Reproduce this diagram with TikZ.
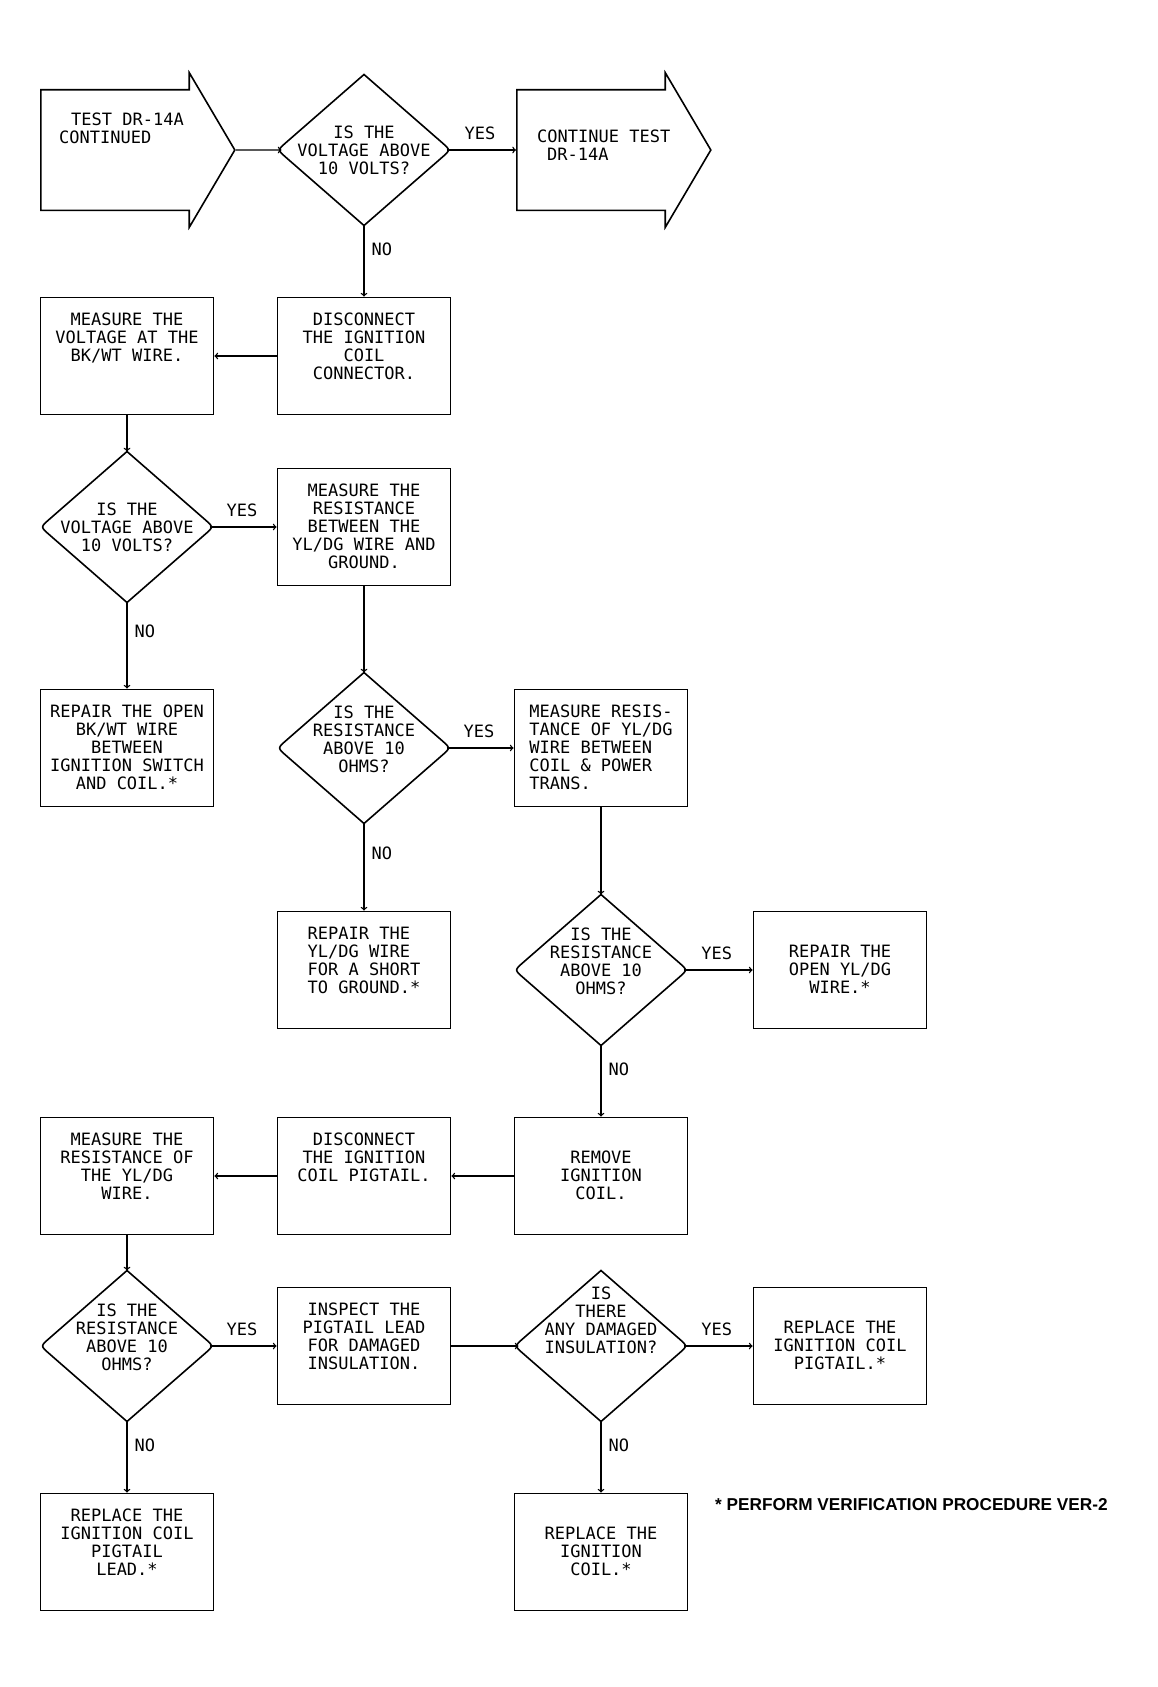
\documentclass[tikz,border=0pt]{standalone}
\usepackage{fontspec}
\usepackage{tikz}
\usetikzlibrary{shapes.geometric}
\usetikzlibrary{shapes.arrows}
\usetikzlibrary{calc}
\newfontfamily\plotterfont{DejaVu Sans Mono}
\newfontfamily\notefont{Liberation Sans}
\newcommand{\plotter}{\plotterfont\fontsize{17}{18}\selectfont}

\begin{document}
\begin{tikzpicture}[x=1pt, y=-1pt,
        stepbox/.style={draw, line width=1.8pt, minimum width=173pt, minimum height=117pt, inner sep=0pt},
        ask/.style={diamond, minimum width=173pt, minimum height=151pt, inner sep=0pt, outer sep=0pt},
        block/.style={single arrow, draw, line width=1.6pt, minimum height=194pt, text height=60pt, text depth=59pt,
            single arrow head extend=17pt, single arrow tip angle=119, inner sep=0pt, anchor=west},
        inside/.style={anchor=north, align=center, font=\plotter, inner sep=0pt},
        answer/.style={font=\plotter, inner sep=0pt},
        flow/.style={->, line width=1.4pt}]
            \useasboundingbox (0,0) rectangle (1157,1687);

            \node[block] (0) at (40,150) {};
            \node[ask, label={[inside, yshift=-51pt]north:IS THE\\VOLTAGE ABOVE\\10 VOLTS?}] (1) at (364,150) {};
            \node[block] (2) at (516,150) {};
            \node[inside, anchor=north west, align=left] (23) at (59,113) {\hspace*{12pt}TEST DR-14A\\CONTINUED};
            \node[inside, anchor=north west, align=left] (24) at (537,130) {CONTINUE TEST\\\hspace*{10pt}DR-14A};

            \node[stepbox, label={[inside, yshift=-16pt]north:DISCONNECT\\THE IGNITION\\COIL\\CONNECTOR.}] (3) at (364,356) {};
            \node[stepbox, label={[inside, yshift=-16pt]north:MEASURE THE\\VOLTAGE AT THE\\BK/WT WIRE.}] (4) at (127,356) {};

            \node[ask, label={[inside, yshift=-51pt]north:IS THE\\VOLTAGE ABOVE\\10 VOLTS?}] (5) at (127,527) {};
            \node[stepbox, label={[inside, yshift=-16pt]north:MEASURE THE\\RESISTANCE\\BETWEEN THE\\YL/DG WIRE AND\\GROUND.}] (6) at (364,527) {};

            \node[stepbox, label={[inside, yshift=-16pt]north:REPAIR THE OPEN\\BK/WT WIRE\\BETWEEN\\IGNITION SWITCH\\AND COIL.*}] (7) at (127,748) {};
            \node[ask, label={[inside, yshift=-33pt]north:IS THE\\RESISTANCE\\ABOVE 10\\OHMS?}] (8) at (364,748) {};
            \node[stepbox, label={[inside, align=left, yshift=-16pt]north:MEASURE RESIS-\\TANCE OF YL/DG\\WIRE BETWEEN\\COIL \& POWER\\TRANS.}] (9) at (601,748) {};

            \node[stepbox, label={[inside, align=left, yshift=-16pt]north:REPAIR THE\\YL/DG WIRE\\FOR A SHORT\\TO GROUND.*}] (10) at (364,970) {};
            \node[ask, label={[inside, yshift=-33pt]north:IS THE\\RESISTANCE\\ABOVE 10\\OHMS?}] (11) at (601,970) {};
            \node[stepbox, label={[inside, yshift=-34pt]north:REPAIR THE\\OPEN YL/DG\\WIRE.*}] (12) at (840,970) {};

            \node[stepbox, label={[inside, yshift=-34pt]north:REMOVE\\IGNITION\\COIL.}] (13) at (601,1176) {};
            \node[stepbox, label={[inside, yshift=-16pt]north:DISCONNECT\\THE IGNITION\\COIL PIGTAIL.}] (14) at (364,1176) {};
            \node[stepbox, label={[inside, yshift=-16pt]north:MEASURE THE\\RESISTANCE OF\\THE YL/DG\\WIRE.}] (15) at (127,1176) {};

            \node[ask, label={[inside, yshift=-33pt]north:IS THE\\RESISTANCE\\ABOVE 10\\OHMS?}] (16) at (127,1346) {};
            \node[stepbox, label={[inside, yshift=-16pt]north:INSPECT THE\\PIGTAIL LEAD\\FOR DAMAGED\\INSULATION.}] (17) at (364,1346) {};
            \node[ask, label={[inside, yshift=-16pt]north:IS\\THERE\\ANY DAMAGED\\INSULATION?}] (18) at (601,1346) {};
            \node[stepbox, label={[inside, yshift=-34pt]north:REPLACE THE\\IGNITION COIL\\PIGTAIL.*}] (19) at (840,1346) {};

            \node[stepbox, label={[inside, yshift=-16pt]north:REPLACE THE\\IGNITION COIL\\PIGTAIL\\LEAD.*}] (20) at (127,1552) {};
            \node[stepbox, label={[inside, yshift=-34pt]north:REPLACE THE\\IGNITION\\COIL.*}] (21) at (601,1552) {};

            \node[anchor=west, inner sep=0pt, font=\notefont\bfseries\fontsize{17.2}{20}\selectfont] (22) at (715,1505)
                {* PERFORM VERIFICATION PROCEDURE VER-2};

            % diamonds with rounded side corners
            \foreach \d in {1,5,8,11,16,18}
                \draw[line width=1.6pt] (\d.north) -- ($(\d.north)!.9!(\d.east)$) .. controls (\d.east) .. ($(\d.south)!.9!(\d.east)$)
                    -- (\d.south) -- ($(\d.south)!.9!(\d.west)$) .. controls (\d.west) .. ($(\d.north)!.9!(\d.west)$) -- cycle;

            \draw[flow, shorten >=-4pt] (0) -- (1);
            \draw[flow, shorten <=-4pt] (1) -- node[answer, above=10pt, pos=.45] {YES} (2);
            \draw[flow] (1) -- node[answer, right=7pt, pos=.34] {NO} (3);
            \draw[flow] (3) -- (4);
            \draw[flow] (4) -- (5);
            \draw[flow, shorten <=-4pt] (5) -- node[answer, above=10pt, pos=.45] {YES} (6);
            \draw[flow] (5) -- node[answer, right=7pt, pos=.34] {NO} (7);
            \draw[flow] (6) -- (8);
            \draw[flow, shorten <=-4pt] (8) -- node[answer, above=10pt, pos=.45] {YES} (9);
            \draw[flow] (8) -- node[answer, right=7pt, pos=.34] {NO} (10);
            \draw[flow] (9) -- (11);
            \draw[flow, shorten <=-4pt] (11) -- node[answer, above=10pt, pos=.45] {YES} (12);
            \draw[flow] (11) -- node[answer, right=7pt, pos=.34] {NO} (13);
            \draw[flow] (13) -- (14);
            \draw[flow] (14) -- (15);
            \draw[flow] (15) -- (16);
            \draw[flow, shorten <=-4pt] (16) -- node[answer, above=10pt, pos=.45] {YES} (17);
            \draw[flow] (16) -- node[answer, right=7pt, pos=.34] {NO} (20);
            \draw[flow, shorten >=-4pt] (17) -- (18);
            \draw[flow, shorten <=-4pt] (18) -- node[answer, above=10pt, pos=.45] {YES} (19);
            \draw[flow] (18) -- node[answer, right=7pt, pos=.34] {NO} (21);
        \end{tikzpicture}
\end{document}
